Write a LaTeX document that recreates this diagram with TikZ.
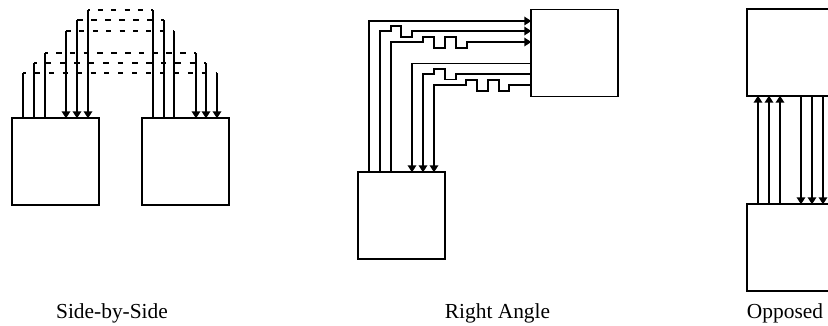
\documentclass[tikz,border=0pt]{standalone}
\usepackage{fontspec}
\setmainfont{Liberation Serif}
\usetikzlibrary{arrows.meta}
\begin{document}
\begin{tikzpicture}[x=1pt,y=-1pt,line width=1.8pt,
  blk/.style={draw,rectangle,outer sep=0pt,inner sep=0pt,minimum width=87pt,minimum height=87pt,anchor=north west},
  sig/.style={-{Triangle[length=7pt,width=8.5pt]},shorten >=-0.3pt},
  captext/.style={font=\fontsize{21.4}{24}\selectfont,inner sep=0pt,anchor=base}]
\useasboundingbox (0,0) rectangle (828,325);
\node[blk] (a) at (12,118) {};
\node[blk] (b) at (142,118) {};
\node[blk] (c) at (358,172) {};
\node[blk] (d) at (531,9.5) {};
\node[blk] (e) at (747,9) {};
\node[blk] (f) at (747,204) {};
% Side-by-side
\foreach \xa/\ya/\xb/\don/\doff/\ph in {23/73/217/5/8.9/2,34/63/206/5.5/8.9/2.8,45/53/196/5.5/8.3/2.8}{
  \draw (\xa,0 |- a.north) -- (\xa,\ya);
  \draw[dash pattern=on \don pt off \doff pt,dash phase=\ph pt] (\xa,\ya) -- (\xb,\ya);
  \draw[sig] (\xb,\ya) -- (\xb,0 |- b.north);
}
\foreach \xa/\ya/\xb/\don/\doff/\ph in {153/10/88/5/8.3/3.4,164/20/77/6/8/0,174/31/66/5/8.4/0}{
  \draw (\xa,0 |- b.north) -- (\xa,\ya);
  \draw[dash pattern=on \don pt off \doff pt,dash phase=\ph pt] (\xb,\ya) -- (\xa,\ya);
  \draw[sig] (\xb,\ya) -- (\xb,0 |- a.north);
}
% Right angle
\draw[sig] (369,0 |- c.north) |- (0,21 -| d.west);
\draw[sig] (380,0 |- c.north) -- (380,31) -- (391,31) -- (391,26) -- (401,26) -- (401,37) -- (412,37) -- (412,31) -- (0,31 -| d.west);
\draw[sig] (391,0 |- c.north) -- (391,42) -- (423,42) -- (423,37) -- (434,37) -- (434,48) -- (445,48) -- (445,37) -- (456,37) -- (456,48) -- (467,48) -- (467,42) -- (0,42 -| d.west);
\draw[sig] (0,63.5 -| d.west) -| (412,0 |- c.north);
\draw[sig] (0,74 -| d.west) -- (456,74) -- (456,79.5) -- (445,79.5) -- (445,69) -- (434,69) -- (434,74) -- (423,74) -- (423,0 |- c.north);
\draw[sig] (0,85 -| d.west) -- (509,85) -- (509,91) -- (499,91) -- (499,80) -- (488,80) -- (488,91) -- (477,91) -- (477,80) -- (466,80) -- (466,85) -- (434,85) -- (434,0 |- c.north);
% Opposed
\foreach \x in {758,769,780}{\draw[sig] (\x,0 |- f.north) -- (\x,0 |- e.south);}
\foreach \x in {801,812,823}{\draw[sig] (\x,0 |- e.south) -- (\x,0 |- f.north);}
% Captions
\node[captext] (t1) at (112,318) {Side-by-Side};
\node[captext] (t2) at (497.5,318) {Right Angle};
\node[captext] (t3) at (785,318) {Opposed};
\end{tikzpicture}
\end{document}
